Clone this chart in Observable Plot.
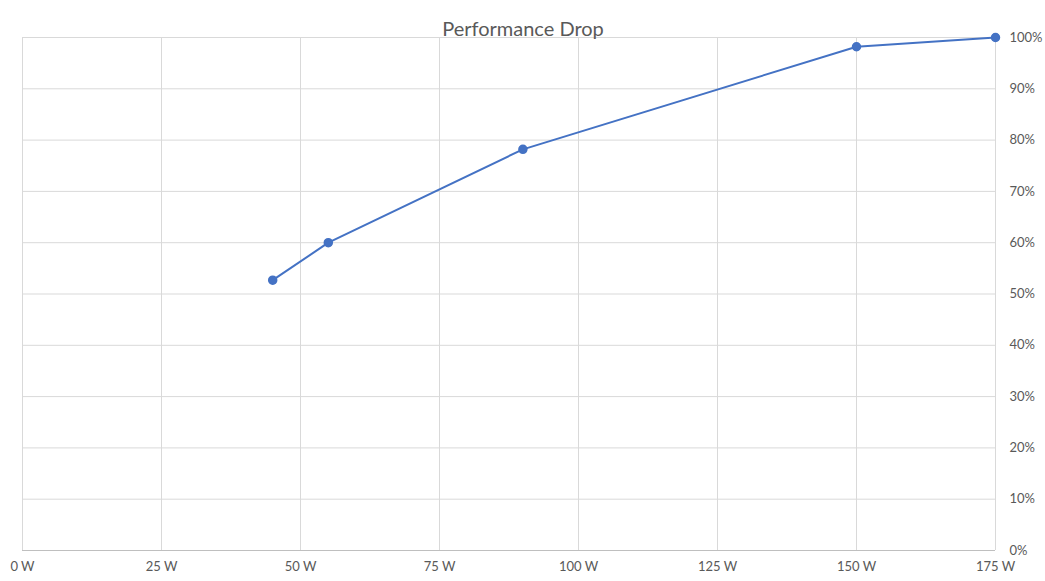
<!DOCTYPE html>
<html>
<head>
<meta charset="utf-8">
<script src="https://cdn.jsdelivr.net/npm/d3@7"></script>
<script src="https://cdn.jsdelivr.net/npm/@observablehq/plot@0.6"></script>
<style>
  html, body { margin: 0; padding: 0; background: #fff; }
  #chart svg { display: block; }
</style>
</head>
<body>
<div id="chart"></div>
<script>
const title = "Performance Drop";
const watts = [45, 55, 90, 150, 175];
const performance = [52.7, 60.0, 78.2, 98.2, 100.0];
const xTicks = [0, 25, 50, 75, 100, 125, 150, 175];
const yTicks = [0, 10, 20, 30, 40, 50, 60, 70, 80, 90, 100];

const data = watts.map((w, i) => ({w, p: performance[i]}));

const chart = Plot.plot({
  width: 1045,
  height: 581,
  marginLeft: 22,
  marginRight: 50,
  marginTop: 37,
  marginBottom: 31,
  style: {fontFamily: "Lato, 'Open Sans', sans-serif", fontSize: "13px", color: "#595959", background: "#fff"},
  x: {domain: [0, 175], label: null},
  y: {domain: [0, 100], label: null},
  marks: [
    Plot.gridX(xTicks, {stroke: "#d9d9d9", strokeOpacity: 1, strokeWidth: 1}),
    Plot.gridY(yTicks, {stroke: "#d9d9d9", strokeOpacity: 1, strokeWidth: 1}),
    Plot.axisX(xTicks, {tickSize: 0, tickPadding: 11, fill: "#595959", fontSize: 13, label: null, tickFormat: d => `${d} W`}),
    Plot.axisY(yTicks, {anchor: "right", tickSize: 0, tickPadding: 14, fill: "#595959", fontSize: 13, label: null, tickFormat: d => `${d}%`}),
    Plot.ruleY([0], {stroke: "#bfbfbf", strokeWidth: 1}),
    Plot.line(data, {x: "w", y: "p", stroke: "#4472C4", strokeWidth: 2}),
    Plot.dot(data, {x: "w", y: "p", r: 4, fill: "#4472C4", stroke: "#4472C4"}),
    Plot.text([title], {frameAnchor: "top", dx: 14, dy: -16, fontSize: 20, fill: "#595959", fontFamily: "Lato, 'Open Sans', sans-serif"})
  ]
});
document.getElementById("chart").appendChild(chart);
</script>
</body>
</html>
